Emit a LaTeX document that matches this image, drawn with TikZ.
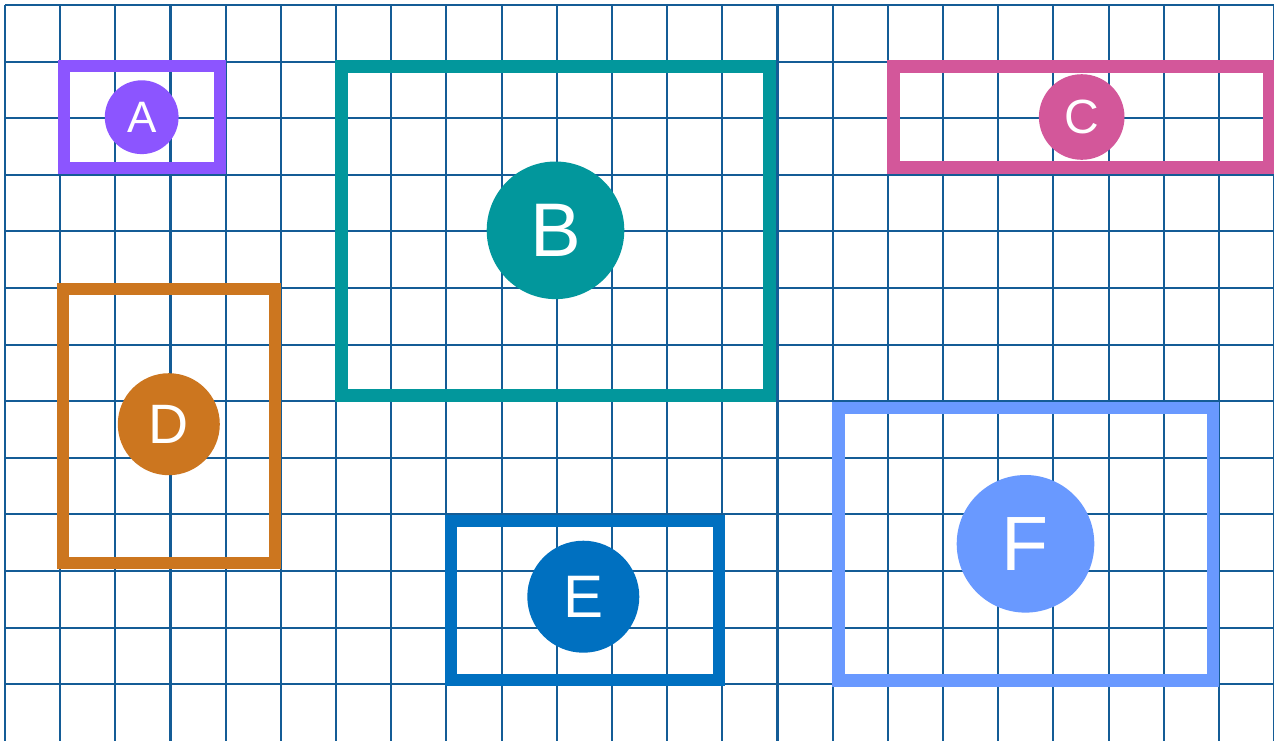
\documentclass[tikz,border=0pt]{standalone}
\usepackage{fontspec}
\setmainfont{Liberation Sans}
\definecolor{gridc}{HTML}{145C96}
\definecolor{colA}{HTML}{8C55FF}
\definecolor{colB}{HTML}{02979C}
\definecolor{colC}{HTML}{D3579A}
\definecolor{colD}{HTML}{CC761F}
\definecolor{colE}{HTML}{0070C0}
\definecolor{colF}{HTML}{6999FF}
\begin{document}
\begin{tikzpicture}[x=1pt,y=-1pt,
  gridline/.style={draw=gridc, line width=2.1pt},
  frame/.style={line width=#1, line join=miter},
  badge/.style={circle, inner sep=0pt, text=white, fill=#1}]
\useasboundingbox (0,0) rectangle (1274,740);
\clip (0,0) rectangle (1274,740);
\fill[white] (0,0) rectangle (1274,740);
% grid
\foreach \k in {0,...,23} \draw[gridline] ({5+55.18*\k},5) -- ({5+55.18*\k},742);
\foreach \k in {0,...,12} \draw[gridline] (5,{5+56.6*\k}) -- (1276,{5+56.6*\k});
% frames
\draw[frame=11.5pt, colA] (64.05,66.05) rectangle (219.95,167.95);
\draw[frame=13pt, colB] (341.5,66.5) rectangle (769.2,395.8);
\draw[frame=12.5pt, colC] (893.55,66.25) rectangle (1269.3,167.45);
\draw[frame=12pt, colD] (63.3,288.7) rectangle (275,563.3);
\draw[frame=11.7pt, colE] (450.85,520.85) rectangle (719.15,679.85);
\draw[frame=12.5pt, colF] (838.55,407.95) rectangle (1212.75,680.45);
% badges
\node[badge=colA, minimum size=73.8pt, font=\fontsize{44}{44}\selectfont] (a) at (141.7,117.2) {A};
\node[badge=colB, minimum size=137.6pt, font=\fontsize{76}{76}\selectfont] (b) at (555.5,230.3) {B};
\node[badge=colC, minimum size=85.6pt, font=\fontsize{48}{48}\selectfont] (c) at (1081.7,117) {C};
\node[badge=colD, minimum size=102pt, font=\fontsize{55.5}{55.5}\selectfont] (d) at (168.8,424.2) {D};
\node[badge=colE, minimum size=112pt, font=\fontsize{60}{60}\selectfont] (e) at (583.3,596.7) {E};
\node[badge=colF, minimum size=137.6pt, font=\fontsize{77}{77}\selectfont] (f) at (1025.5,543.8) {F};
\end{tikzpicture}
\end{document}
